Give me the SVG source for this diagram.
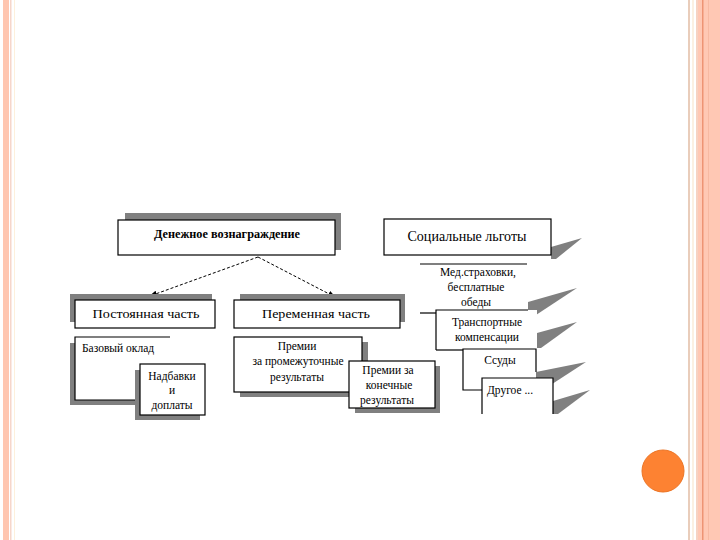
<svg xmlns="http://www.w3.org/2000/svg" width="720" height="540" viewBox="0 0 720 540">
<style>
text{font-family:'Liberation Serif','Times New Roman',serif;fill:#000}
.s{font-size:11.5px}
.m{font-size:13px}
.box{fill:#fff;stroke:#000;stroke-width:1.2}
.ln{fill:none;stroke:#000;stroke-width:1.2}
.sh{fill:#808080}
.dash{fill:none;stroke:#000;stroke-width:1;stroke-dasharray:3,2}
</style>
<defs>
<marker id="ah" markerWidth="8" markerHeight="8" refX="7" refY="4" orient="auto" markerUnits="userSpaceOnUse">
<path d="M0,1 L8,4 L0,7 Z" fill="#000"/>
</marker>
</defs>
<rect width="720" height="540" fill="#fff"/>
<g id="frame">
<rect x="3" y="0" width="6" height="540" fill="#ffc6b0"/>
<rect x="10" y="0" width="1.5" height="540" fill="#f6d6ca"/>
<rect x="14" y="0" width="1" height="540" fill="#fdf0dc"/>
<rect x="688" y="0" width="2" height="540" fill="#e9cdbb"/>
<rect x="692" y="0" width="2" height="540" fill="#fbf0e2"/>
<rect x="696" y="0" width="2" height="540" fill="#f6d2c2"/>
<rect x="698" y="0" width="22" height="540" fill="#ffc8b4"/>
<rect x="702" y="0" width="1.5" height="540" fill="#ee9474"/>
<rect x="708" y="0" width="1" height="540" fill="#f7b9a2"/>
</g>
<circle id="dot" cx="663" cy="471" r="21" fill="#fd8232" stroke="#ec7424" stroke-width="1"/>
<g id="connectors">
<line class="dash" x1="258" y1="257" x2="150" y2="296" marker-end="url(#ah)"/>
<line class="dash" x1="258" y1="257" x2="335" y2="297" marker-end="url(#ah)"/>
</g>
<g id="money">
<rect class="sh" x="125" y="213" width="216" height="37"/>
<rect class="box" x="118" y="220" width="217" height="35"/>
<text x="227" y="238" font-size="11.5" font-weight="bold" text-anchor="middle" textLength="146" lengthAdjust="spacingAndGlyphs">Денежное вознаграждение</text>
</g>
<g id="social">
<polygon class="sh" points="551,247 582,238 556,259 551,259"/>
<rect class="box" x="384" y="219" width="167" height="36"/>
<text x="467" y="241" font-size="14" text-anchor="middle" textLength="119" lengthAdjust="spacingAndGlyphs">Социальные льготы</text>
</g>
<g id="fixed">
<rect class="sh" x="70" y="294" width="142" height="28"/>
<rect class="box" x="75" y="300" width="140" height="28"/>
<text class="m" x="146" y="318" text-anchor="middle" textLength="107" lengthAdjust="spacingAndGlyphs">Постоянная часть</text>
</g>
<g id="base">
<rect class="sh" x="70" y="343" width="70" height="62"/>
<rect x="75" y="337" width="95" height="63" fill="#fff"/>
<polyline class="ln" points="170,337 75,337 75,400 136,400"/>
<text class="s" x="82" y="352">Базовый оклад</text>
</g>
<g id="bonus">
<rect class="sh" x="135" y="370" width="65" height="50"/>
<rect class="box" x="140" y="364" width="65" height="51"/>
<text class="s" x="172" y="380" text-anchor="middle">Надбавки</text>
<text class="s" x="172" y="394" text-anchor="middle">и</text>
<text class="s" x="172" y="409" text-anchor="middle">доплаты</text>
</g>
<g id="variable">
<rect class="sh" x="240" y="294" width="165" height="28"/>
<rect class="box" x="234" y="300" width="166" height="28"/>
<text class="m" x="316" y="318" text-anchor="middle" textLength="108" lengthAdjust="spacingAndGlyphs">Переменная часть</text>
</g>
<g id="interim">
<rect class="sh" x="240" y="342" width="128" height="55"/>
<rect class="box" x="234" y="337" width="128" height="55"/>
<text class="s" x="297" y="350" text-anchor="middle">Премии</text>
<text class="s" x="298" y="365" text-anchor="middle">за промежуточные</text>
<text class="s" x="297" y="381" text-anchor="middle">результаты</text>
</g>
<g id="final">
<rect class="sh" x="355" y="366" width="85" height="47"/>
<rect class="box" x="349" y="361" width="86" height="47"/>
<text class="s" x="388" y="374" text-anchor="middle">Премии за</text>
<text class="s" x="389" y="389" text-anchor="middle">конечные</text>
<text class="s" x="387" y="404" text-anchor="middle">результаты</text>
</g>
<g id="medical">
<polygon class="sh" points="528,302 577,288 536,315 528,315"/>
<line class="ln" x1="420" y1="264" x2="527" y2="264"/>
<line class="ln" x1="420" y1="313" x2="436" y2="313"/>
<text class="s" x="478" y="276" text-anchor="middle">Мед.страховки,</text>
<text class="s" x="476" y="291" text-anchor="middle">бесплатные</text>
<text class="s" x="476" y="306" text-anchor="middle">обеды</text>
</g>
<g id="transport">
<polygon class="sh" points="537,333 577,322 541,348 537,348"/>
<rect x="436" y="310" width="101" height="40" fill="#fff"/>
<polyline class="ln" points="436,350 436,310 528,310"/>
<line class="ln" x1="436" y1="350" x2="463" y2="350"/>
<text class="s" x="487" y="326" text-anchor="middle">Транспортные</text>
<text class="s" x="487" y="341" text-anchor="middle">компенсации</text>
</g>
<g id="loans">
<polygon class="sh" points="536,372 586,362 546,388 536,388"/>
<rect x="463" y="349" width="73" height="41" fill="#fff"/>
<polyline class="ln" points="482,390 463,390 463,349 536,349 536,372"/>
<text class="s" x="500" y="364" text-anchor="middle">Ссуды</text>
</g>
<g id="other">
<polygon class="sh" points="553,401 590,390 558,414 553,414"/>
<rect x="482" y="378" width="71" height="36" fill="#fff"/>
<polyline class="ln" points="482,414 482,378 553,378 553,414"/>
<text class="s" x="510" y="394" text-anchor="middle">Другое ...</text>
</g>
</svg>
